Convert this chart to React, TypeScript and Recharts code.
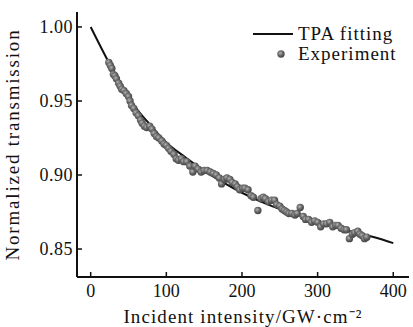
import { ComposedChart, Line, Scatter, XAxis, YAxis } from 'recharts';

// TPA fitting curve
const fitX = [0, 25, 50, 75, 100, 125, 150, 175, 200, 225, 250, 275, 300, 325, 350, 375, 400];
const fitY = [1.0, 0.975, 0.952, 0.936, 0.922, 0.912, 0.903, 0.895, 0.888, 0.882, 0.877, 0.873, 0.869, 0.865, 0.861, 0.858, 0.854];

// experimental points
const expX = [
  24, 26, 28, 30, 32, 34, 37, 39, 41, 44, 47, 50, 52, 54, 57, 60, 63, 66, 68, 71,
  74, 78, 81, 84, 87, 90, 94, 97, 100, 103, 106, 110, 113, 116, 120, 123, 127, 131, 135, 138,
  142, 146, 150, 154, 158, 162, 166, 170, 173, 177, 180, 184, 187, 191, 194, 197, 201, 204, 208, 212,
  215, 221, 225, 228, 231, 235, 239, 243, 246, 250, 253, 256, 259, 262, 266, 270, 273, 277, 281, 284,
  288, 292, 296, 300, 304, 308, 312, 316, 320, 324, 327, 331, 335, 338, 342, 346, 349, 353, 356, 359,
  362, 365,
];
const expY = [
  0.976, 0.974, 0.972, 0.968, 0.967, 0.965, 0.962, 0.96, 0.958, 0.957, 0.955, 0.953, 0.95, 0.947, 0.945, 0.942, 0.94, 0.937, 0.935, 0.933,
  0.932, 0.933, 0.931, 0.928, 0.926, 0.925, 0.923, 0.921, 0.92, 0.918, 0.916, 0.914, 0.911, 0.91, 0.911, 0.909, 0.909, 0.906, 0.902, 0.906,
  0.904, 0.902, 0.903, 0.903, 0.902, 0.901, 0.9, 0.898, 0.894, 0.897, 0.898, 0.897, 0.895, 0.894, 0.892, 0.89, 0.891, 0.891, 0.89, 0.886,
  0.885, 0.876, 0.884, 0.885, 0.884, 0.882, 0.883, 0.883, 0.88, 0.879, 0.877, 0.876, 0.875, 0.874, 0.874, 0.873, 0.874, 0.878, 0.872, 0.87,
  0.87, 0.868, 0.869, 0.868, 0.865, 0.867, 0.867, 0.868, 0.865, 0.866, 0.866, 0.864, 0.863, 0.863, 0.857, 0.86, 0.861, 0.862, 0.86, 0.859,
  0.857, 0.858,
];

const xTicks = [0, 100, 200, 300, 400];
const yTicks = [0.85, 0.9, 0.95, 1.0];

const fitData = fitX.map((x, i) => ({ x, y: fitY[i] }));
const expData = expX.map((x, i) => ({ x, y: expY[i] }));

const FONT = '"Liberation Serif", "Times New Roman", serif';
const INK = '#111';

function XTick({ x, y, payload }: any) {
  return (
    <g>
      <line x1={x} x2={x} y1={y} y2={y - 5} stroke={INK} strokeWidth={1.5} />
      <text x={x} y={y + 20} textAnchor="middle" fontSize={18} fontFamily={FONT} fill={INK}>
        {payload.value}
      </text>
    </g>
  );
}

function YTick({ x, y, payload }: any) {
  return (
    <g>
      <line x1={x} x2={x + 5} y1={y} y2={y} stroke={INK} strokeWidth={1.5} />
      <text x={x - 4} y={y + 6} textAnchor="end" fontSize={18} fontFamily={FONT} fill={INK} letterSpacing={0.5}>
        {payload.value.toFixed(2)}
      </text>
    </g>
  );
}

function Ball({ cx, cy }: any) {
  return <circle cx={cx} cy={cy} r={3.7} fill="url(#ball)" />;
}

export default function App() {
  return (
    <div style={{ position: 'absolute', left: 0, top: 0, width: 413, height: 327, background: '#fff' }}>
      <svg width={0} height={0} style={{ position: 'absolute' }}>
        <defs>
          <radialGradient id="ball" cx="40%" cy="38%" r="62%">
            <stop offset="0%" stopColor="#b4b4b4" />
            <stop offset="55%" stopColor="#666" />
            <stop offset="100%" stopColor="#444" />
          </radialGradient>
        </defs>
      </svg>
      <ComposedChart width={413} height={327} margin={{ top: 12, right: 4, left: 0, bottom: 0 }}>
        <XAxis
          xAxisId="b"
          type="number"
          dataKey="x"
          domain={[-18.1, 420.8]}
          ticks={xTicks}
          height={50}
          tickSize={0}
          tickMargin={0}
          tickLine={false}
          axisLine={{ stroke: INK, strokeWidth: 2 }}
          tick={<XTick />}
          allowDataOverflow
          label={{
            value: 'Incident intensity/GW·cm⁻²',
            position: 'insideBottom',
            offset: 4,
            fontSize: 19,
            fontFamily: FONT,
            fill: INK,
            letterSpacing: 1.1,
          }}
        />
        <XAxis xAxisId="t" orientation="top" type="number" domain={[-18.1, 420.8]} height={0} tick={false} tickLine={false} axisLine={{ stroke: INK, strokeWidth: 2 }} />
        <YAxis
          yAxisId="l"
          type="number"
          domain={[0.8311, 1.0101]}
          ticks={yTicks}
          width={77}
          tickSize={0}
          tickMargin={0}
          tickLine={false}
          axisLine={{ stroke: INK, strokeWidth: 2 }}
          tick={<YTick />}
          allowDataOverflow
          label={{
            value: 'Normalized transmission',
            angle: -90,
            position: 'insideLeft',
            offset: 12,
            fontSize: 19,
            fontFamily: FONT,
            fill: INK,
            letterSpacing: 1.8,
            style: { textAnchor: 'middle' },
          }}
        />
        <YAxis yAxisId="r" orientation="right" type="number" domain={[0.8311, 1.0101]} width={0} tick={false} tickLine={false} axisLine={{ stroke: INK, strokeWidth: 2 }} />
        <Scatter xAxisId="b" yAxisId="l" data={expData} dataKey="y" shape={<Ball />} isAnimationActive={false} />
        <Line xAxisId="b" yAxisId="l" data={fitData} dataKey="y" type="monotone" stroke={INK} strokeWidth={2} dot={false} isAnimationActive={false} />
      </ComposedChart>
      <svg width={413} height={327} style={{ position: 'absolute', left: 0, top: 0, pointerEvents: 'none' }}>
        <line x1={253} x2={293} y1={34} y2={34} stroke={INK} strokeWidth={2} />
        <circle cx={281} cy={54} r={3.7} fill="url(#ball)" />
        <text x={298} y={40} fontSize={19} fontFamily={FONT} fill={INK} letterSpacing={1}>
          TPA fitting
        </text>
        <text x={298} y={60} fontSize={19} fontFamily={FONT} fill={INK} letterSpacing={1}>
          Experiment
        </text>
      </svg>
    </div>
  );
}
